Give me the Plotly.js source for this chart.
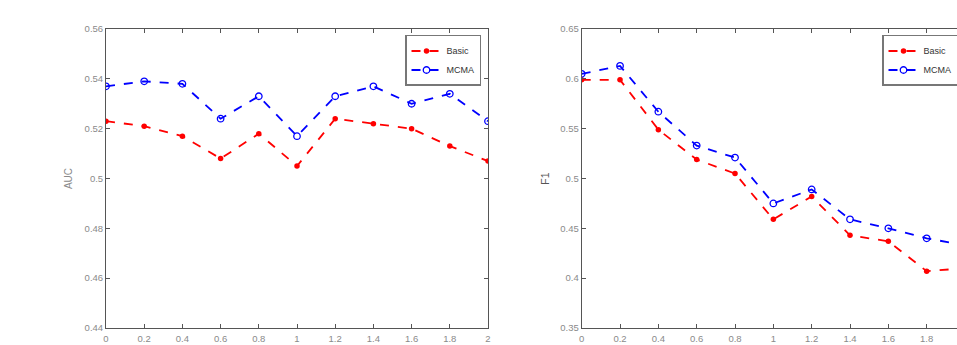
<!DOCTYPE html>
<html>
<head>
<meta charset="utf-8">
<script src="https://cdn.plot.ly/plotly-3.0.1.min.js"></script>
<style>
html,body{margin:0;padding:0;overflow:hidden;background:#fff;}
#chart{width:1000px;height:345px;}
</style>
</head>
<body>
<div id="chart"></div>
<script>
// ---- data ----
const xVals = [0, 0.2, 0.4, 0.6, 0.8, 1, 1.2, 1.4, 1.6, 1.8, 2];
const xTickText = ["0","0.2","0.4","0.6","0.8","1","1.2","1.4","1.6","1.8","2"];

const aucBasic = [0.523, 0.521, 0.517, 0.508, 0.518, 0.505, 0.524, 0.522, 0.520, 0.513, 0.507];
const aucMCMA  = [0.537, 0.539, 0.538, 0.524, 0.533, 0.517, 0.533, 0.537, 0.530, 0.534, 0.523];

const f1Basic = [0.599, 0.599, 0.549, 0.519, 0.505, 0.459, 0.482, 0.443, 0.437, 0.407, 0.410];
const f1MCMA  = [0.605, 0.613, 0.567, 0.533, 0.521, 0.475, 0.489, 0.459, 0.450, 0.440, 0.433];

const aucTicks = [0.44, 0.46, 0.48, 0.5, 0.52, 0.54, 0.56];
const aucTickText = ["0.44","0.46","0.48","0.5","0.52","0.54","0.56"];
const f1Ticks = [0.35, 0.4, 0.45, 0.5, 0.55, 0.6, 0.65];
const f1TickText = ["0.35","0.4","0.45","0.5","0.55","0.6","0.65"];

const seriesNames = ["Basic", "MCMA"];

// ---- styles ----
const W = 1000;
const red = "#ff0000", blue = "#0000ff";
const basicStyle = {
  mode: "lines+markers",
  line: {color: red, width: 1.8, dash: "dash"},
  marker: {color: red, size: 5.5, symbol: "circle"}
};
const mcmaStyle = {
  mode: "lines+markers",
  line: {color: blue, width: 1.8, dash: "dash"},
  marker: {color: blue, size: 6.5, symbol: "circle-open", line: {color: blue, width: 1.3}}
};

const traces = [
  Object.assign({x: xVals, y: aucBasic, name: seriesNames[0], xaxis: "x", yaxis: "y", legend: "legend"}, basicStyle),
  Object.assign({x: xVals, y: aucMCMA, name: seriesNames[1], xaxis: "x", yaxis: "y", legend: "legend"}, mcmaStyle),
  Object.assign({x: xVals, y: f1Basic, name: seriesNames[0], xaxis: "x2", yaxis: "y2", legend: "legend2"}, basicStyle),
  Object.assign({x: xVals, y: f1MCMA, name: seriesNames[1], xaxis: "x2", yaxis: "y2", legend: "legend2"}, mcmaStyle)
];

const tickFont = {family: "Liberation Sans, Arial, sans-serif", size: 9.5, color: "#8a8a8a"};
const axisCommon = {
  showgrid: false, zeroline: false, showline: true, linecolor: "#555", linewidth: 1,
  mirror: "ticks", ticks: "inside", ticklen: 4, tickcolor: "#555", tickwidth: 1,
  tickfont: tickFont, fixedrange: true
};

const legendCommon = {
  bgcolor: "#ffffff", bordercolor: "#777", borderwidth: 1.5,
  font: {family: "Liberation Sans, Arial, sans-serif", size: 9, color: "#333"},
  xanchor: "right", yanchor: "top", yref: "paper", xref: "paper",
  tracegroupgap: 0, itemwidth: 30
};

const layout = {
  width: W, height: 345,
  margin: {l: 0, r: 0, t: 29, b: 17},
  paper_bgcolor: "#ffffff", plot_bgcolor: "#ffffff",
  xaxis: Object.assign({}, axisCommon, {domain: [106/W, 488/W], range: [0, 2],
    tickvals: xVals, ticktext: xTickText, ticklabelstandoff: 2, anchor: "y"}),
  yaxis: Object.assign({}, axisCommon, {range: [0.44, 0.56], tickvals: aucTicks, ticktext: aucTickText,
    anchor: "x",
    title: {text: "AUC", font: {family: "Liberation Sans, Arial, sans-serif", size: 10, color: "#8a8a8a"}, standoff: 10}}),
  xaxis2: Object.assign({}, axisCommon, {domain: [581.7/W, 965/W], range: [0, 2],
    tickvals: xVals, ticktext: xTickText, ticklabelstandoff: 2, anchor: "y2"}),
  yaxis2: Object.assign({}, axisCommon, {range: [0.35, 0.65], tickvals: f1Ticks, ticktext: f1TickText,
    anchor: "x2",
    title: {text: "F1", font: {family: "Liberation Sans, Arial, sans-serif", size: 10.5, color: "#555"}, standoff: 8}}),
  legend: Object.assign({}, legendCommon, {x: 481/W, y: 0.98}),
  legend2: Object.assign({}, legendCommon, {x: 958/W, y: 0.98}),
  showlegend: true
};

Plotly.newPlot("chart", traces, layout, {displayModeBar: false, staticPlot: true});
</script>
</body>
</html>
